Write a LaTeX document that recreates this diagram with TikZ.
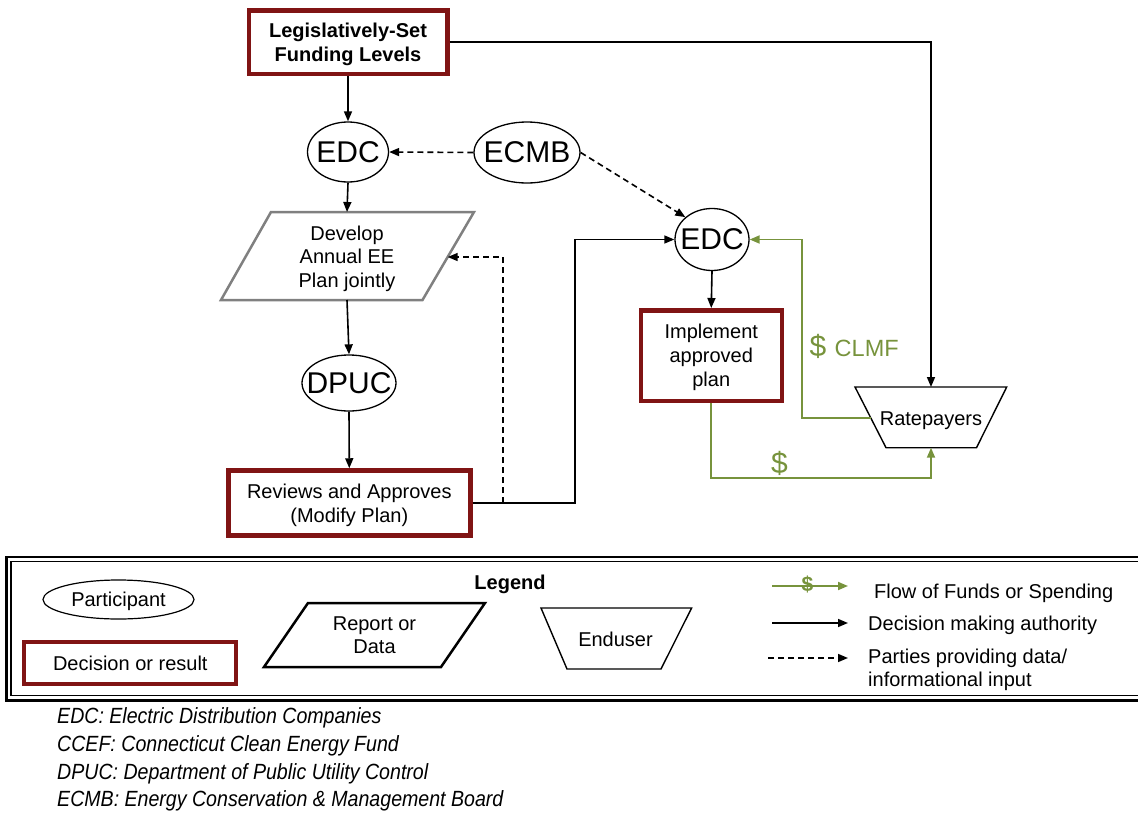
\documentclass[tikz,border=0pt]{standalone}
\usepackage{fontspec}
\usepackage{graphicx}
\setmainfont{Liberation Sans}
\usetikzlibrary{arrows.meta,shapes.geometric,calc}
\definecolor{dred}{RGB}{128,20,20}
\definecolor{fund}{RGB}{119,147,60}
\definecolor{planedge}{RGB}{128,128,128}
\newcommand\nowidth[1]{\makebox[0pt]{#1}}
\newcommand\abbr[1]{\scalebox{0.89}[1]{\fontsize{22}{27}\selectfont\itshape #1}}

\begin{document}
\begin{tikzpicture}[x=1pt,y=-1pt,
  tip/.style={-{Triangle[length=10pt,width=8pt]}},
  link/.style={line width=1.6pt, tip},
  info/.style={line width=1.6pt, dash pattern=on 6pt off 4pt, tip},
  money/.style={line width=1.8pt, draw=fund, tip, fund},
  decision/.style={draw=dred, line width=4.5pt, inner sep=0pt, align=center,
    text depth=0pt, font=\fontsize{20}{24}\selectfont},
  party/.style={ellipse, draw, line width=1.3pt, inner sep=0pt, text depth=0pt,
    font=\fontsize{30}{34}\selectfont},
  body/.style={font=\fontsize{20}{23.5}\selectfont, align=center, inner sep=0pt, text depth=0pt},
  key/.style={font=\fontsize{20}{23.5}\selectfont, align=left, inner sep=0pt, anchor=base west},
  dollar/.style={font=\fontsize{30}{32}\selectfont, text=fund, inner sep=0pt, anchor=base west},
]
\useasboundingbox (0,0) rectangle (1138,814);

% ---------- left column ----------
\node[decision, minimum width=198.5pt, minimum height=63.5pt,
      font=\bfseries\fontsize{20}{24}\selectfont] (leg) at (348,42)
      {Legislatively-Set\\Funding Levels};

\node[party, minimum width=81pt, minimum height=60pt] (edc1) at (348,152) {\nowidth{EDC}};
\node[party, minimum width=106pt, minimum height=61pt] (ecmb) at (527,152.5) {\nowidth{ECMB}};

% report: annual plan
\coordinate (pBL) at (221,300);
\coordinate (pBR) at (422.5,300);
\coordinate (pTR) at (474,212);
\coordinate (pTL) at (271,212);
\draw[draw=planedge, line width=2.5pt, line join=miter] (pBL) -- (pBR) -- (pTR) -- (pTL) -- cycle;
\node[body] (plan) at (347,256.5) {Develop\\Annual EE\\Plan jointly};
\coordinate (planTop) at (347,212);
\coordinate (planBot) at (347,300);
\coordinate (planR) at (447.7,257);

\node[party, minimum width=94pt, minimum height=56pt] (dpuc) at (349,383) {\nowidth{DPUC}};

\node[decision, minimum width=242pt, minimum height=65pt] (rev) at (349.3,503)
      {Reviews and Approves\\(Modify Plan)};

% ---------- right column ----------
\node[party, minimum width=74pt, minimum height=62pt] (edc2) at (712,239.5) {\nowidth{EDC}};

\node[decision, minimum width=141pt, minimum height=90.5pt] (impl) at (711.25,355.5)
      {Implement\\approved\\plan};

% enduser: ratepayers
\coordinate (rTL) at (855,387);
\coordinate (rTR) at (1006.7,387);
\coordinate (rBR) at (976.5,447.7);
\coordinate (rBL) at (886,447.7);
\draw[line width=1.4pt, line join=miter] (rTL) -- (rTR) -- (rBR) -- (rBL) -- cycle;
\node[body] (rate) at (931,418.8) {Ratepayers};
\coordinate (rpTop) at (931,387);
\coordinate (rpBot) at (931,447.7);
\coordinate (rpLeft) at (870.8,417.7);

% ---------- decision connectors ----------
\draw[link] (leg.south) -- (edc1.north);
\draw[link] (leg.east) -| (rpTop);
\draw[link] (edc1.south) -- (planTop);
\draw[link] (planBot) -- (dpuc.north);
\draw[link] (dpuc.south) -- (rev.north);
\draw[link] (rev.east) -- ++(102.4,0) |- (edc2.west);
\draw[link] (edc2.south) -- (impl.north);

% ---------- data connectors ----------
\draw[info] (ecmb.west) -- (edc1.east);
\draw[info] (ecmb.east) -- (edc2.140);
\coordinate (revJoin) at (502.7,503);
\draw[info] (revJoin) |- (planR);

% ---------- funds ----------
\draw[money] (impl.south) -- (711.25,478.3) -| (rpBot);
\draw[money] (rpLeft) -- (802,417.7) |- (edc2.east);
\node[dollar] (clmf) at (809.5,356.7) {\$ {\fontsize{23.5}{26}\selectfont CLMF}};
\node[dollar] (spend) at (771,473.6) {\$};

% ---------- legend ----------
\draw[line width=2.5pt] (6.5,557) rectangle (1160,700.5);
\draw[line width=1.2pt] (11,561.5) rectangle (1160,695.5);

\node[font=\bfseries\fontsize{20}{24}\selectfont, anchor=base, inner sep=0pt] (legtitle) at (510,589.3) {Legend};

\node[party, line width=1.2pt, minimum width=151pt, minimum height=39pt,
      font=\fontsize{20}{24}\selectfont] (kpart) at (118.5,599.5) {\nowidth{Participant}};
\node[decision, line width=4pt, minimum width=211.7pt, minimum height=41.7pt] (kdec) at (130.3,662.8)
      {Decision or result};

\draw[line width=2.5pt, line join=miter] (264,667) -- (441,667) -- (485,603) -- (308,603) -- cycle;
\node[body] (krep) at (374.5,635.3) {Report or\\Data};

\draw[line width=1.4pt, line join=miter] (541,608) -- (691.6,608) -- (661,669) -- (567,669) -- cycle;
\node[body] (kend) at (615.5,638.8) {Enduser};

\coordinate (k1a) at (772,586);   \coordinate (k1b) at (848,586);
\coordinate (k2a) at (772,623);   \coordinate (k2b) at (848,623);
\coordinate (k3a) at (768,658);   \coordinate (k3b) at (848,658);
\draw[money] (k1a) -- (k1b);
\node[font=\bfseries\fontsize{21}{24}\selectfont, text=fund, anchor=base, inner sep=0pt] (k1s) at (807.5,591) {\$};
\draw[link] (k2a) -- (k2b);
\draw[info] (k3a) -- (k3b);

\node[key] (k1t) at (874,598.3) {Flow of Funds or Spending};
\node[key] (k2t) at (868,630.7) {Decision making authority};
\node[key] (k3t) at (868,686.7) {Parties providing data/\\informational input};

% ---------- abbreviations ----------
\node[anchor=base west, inner sep=0pt] (ab1) at (57,723.3) {\abbr{EDC: Electric Distribution Companies}};
\node[anchor=base west, inner sep=0pt] (ab2) at (57,751.2) {\abbr{CCEF: Connecticut Clean Energy Fund}};
\node[anchor=base west, inner sep=0pt] (ab3) at (57,779.0) {\abbr{DPUC: Department of Public Utility Control}};
\node[anchor=base west, inner sep=0pt] (ab4) at (57,806.7) {\abbr{ECMB: Energy Conservation \& Management Board}};
\end{tikzpicture}
\end{document}
